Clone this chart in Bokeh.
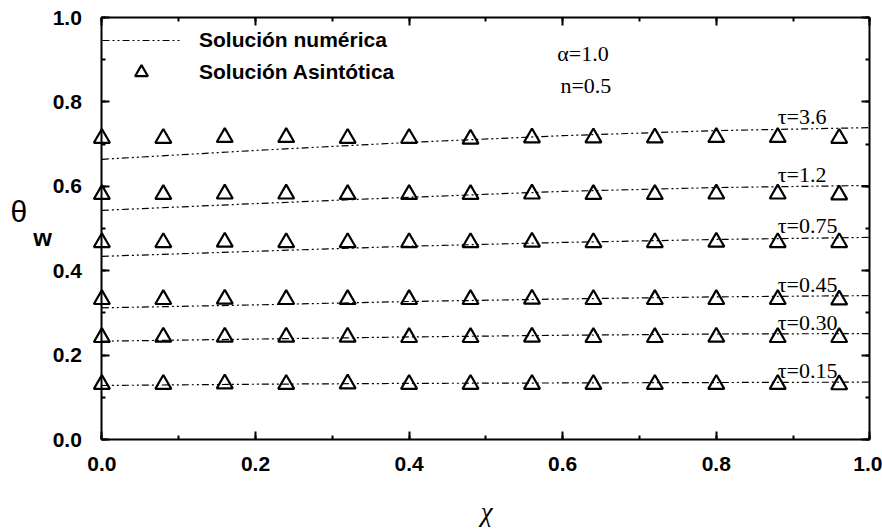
from bokeh.plotting import figure
from bokeh.models import (ColumnDataSource, Legend, LegendItem, LinearAxis, Label,
                          Range1d, SingleIntervalTicker, NumeralTickFormatter)
from bokeh.embed import file_html
from bokeh.resources import INLINE
from bokeh.core.properties import value

# Position along the wall
chi_num = [0.0, 0.2, 0.4, 0.6, 0.8, 1.0]
chi_asym = [0.0, 0.08, 0.16, 0.24, 0.32, 0.40, 0.48, 0.56, 0.64, 0.72, 0.80, 0.88, 0.96]

tau_labels = ["τ=3.6", "τ=1.2", "τ=0.75", "τ=0.45", "τ=0.30", "τ=0.15"]

# Numerical solution, wall temperature
num_36 = [0.664, 0.685, 0.704, 0.720, 0.732, 0.739]
num_12 = [0.543, 0.559, 0.574, 0.588, 0.597, 0.602]
num_075 = [0.434, 0.446, 0.458, 0.467, 0.474, 0.479]
num_045 = [0.312, 0.319, 0.327, 0.333, 0.338, 0.341]
num_030 = [0.233, 0.238, 0.243, 0.247, 0.250, 0.251]
num_015 = [0.128, 0.131, 0.133, 0.134, 0.135, 0.136]

# Asymptotic solution, wall temperature
asym_36 = [0.714, 0.714, 0.716, 0.716, 0.714, 0.714, 0.712, 0.715, 0.715, 0.715, 0.716, 0.716, 0.714]
asym_12 = [0.581, 0.581, 0.582, 0.582, 0.581, 0.581, 0.581, 0.582, 0.581, 0.581, 0.582, 0.582, 0.580]
asym_075 = [0.467, 0.467, 0.468, 0.467, 0.467, 0.467, 0.467, 0.468, 0.467, 0.467, 0.468, 0.467, 0.467]
asym_045 = [0.332, 0.332, 0.333, 0.332, 0.332, 0.332, 0.332, 0.333, 0.332, 0.332, 0.332, 0.332, 0.331]
asym_030 = [0.242, 0.243, 0.243, 0.243, 0.243, 0.242, 0.242, 0.243, 0.242, 0.242, 0.243, 0.242, 0.242]
asym_015 = [0.131, 0.131, 0.132, 0.131, 0.132, 0.131, 0.131, 0.131, 0.131, 0.131, 0.131, 0.131, 0.130]

numeric = [num_36, num_12, num_075, num_045, num_030, num_015]
asymptotic = [asym_36, asym_12, asym_075, asym_045, asym_030, asym_015]

SANS = "Liberation Sans"
SERIF = "Liberation Serif"

# The frame covers the whole canvas; the box axes sit at fixed data positions
# so that markers on the edges and the axis titles are not clipped.
p = figure(width=882, height=531, output_backend="svg", toolbar_location=None,
           x_range=Range1d(-0.1320, 1.0164), y_range=Range1d(-0.2180, 1.0403),
           x_axis_location=None, y_axis_location=None, min_border=0)
p.grid.visible = False
p.outline_line_color = None
p.background_fill_color = "white"
p.border_fill_color = "white"

bottom = LinearAxis(fixed_location=0, bounds=(0, 1))
top = LinearAxis(fixed_location=1, bounds=(0, 1))
left = LinearAxis(fixed_location=0, bounds=(0, 1))
right = LinearAxis(fixed_location=1, bounds=(0, 1))
p.add_layout(bottom, "below")
p.add_layout(top, "above")
p.add_layout(left, "left")
p.add_layout(right, "right")

for ax in (bottom, top, left, right):
    ax.ticker = SingleIntervalTicker(interval=0.2, num_minor_ticks=2)
    ax.formatter = NumeralTickFormatter(format="0.0")
    ax.axis_line_width = 2
    ax.axis_line_color = "black"
    ax.major_tick_in = 8
    ax.major_tick_out = 0
    ax.minor_tick_in = 4
    ax.minor_tick_out = 0
    ax.major_tick_line_width = 2
    ax.minor_tick_line_width = 2
    ax.major_label_text_font = SANS
    ax.major_label_text_font_style = "bold"
    ax.major_label_text_font_size = "21px"
    ax.major_label_text_color = "black"

top.major_label_text_color = None
right.major_label_text_color = None
bottom.major_label_standoff = 17
left.major_label_standoff = 20

line_renderers = []
tri_renderers = []
for vals in numeric:
    r = p.line(chi_num, vals, line_color="black", line_width=1.2, line_dash="7 3 2 3 2 3")
    line_renderers.append(r)
for vals in asymptotic:
    r = p.scatter(chi_asym, vals, marker="triangle", size=16, fill_color=None,
                  line_color="black", line_width=2.2)
    tri_renderers.append(r)

# curve labels just above the right end of each numerical curve
lab_src = ColumnDataSource(dict(
    x=[0.88] * len(tau_labels),
    y=[vals[-1] + 0.027 for vals in numeric],
    text=tau_labels,
))
p.text(x="x", y="y", text="text", source=lab_src, text_font=value(SERIF),
       text_font_size="22px", text_baseline="middle", text_align="left", text_color="black")

p.add_layout(Label(x=0.593, y=0.915, text="α=1.0", text_font=SERIF, text_font_size="22px",
                   text_baseline="middle", text_color="black"))
p.add_layout(Label(x=0.597, y=0.839, text="n=0.5", text_font=SERIF, text_font_size="22px",
                   text_baseline="middle", text_color="black"))

# axis titles
p.add_layout(Label(x=-0.108, y=0.54, text="θ", text_font=SANS, text_font_size="30px",
                   text_align="center", text_baseline="middle", text_color="black"))
p.add_layout(Label(x=-0.0773, y=0.479, text="w", text_font=SANS, text_font_style="bold",
                   text_font_size="24px", text_align="center", text_baseline="middle",
                   text_color="black"))
p.add_layout(Label(x=0.501, y=-0.172, text="χ", text_font=SERIF, text_font_style="italic",
                   text_font_size="27px", text_align="center", text_baseline="middle",
                   text_color="black"))

legend = Legend(items=[LegendItem(label="Solución numérica", renderers=[line_renderers[0]]),
                       LegendItem(label="Solución Asintótica", renderers=[tri_renderers[0]])],
                location=(102, 443), orientation="vertical",
                glyph_width=78, glyph_height=32, label_height=32, spacing=0,
                label_standoff=19, padding=3, margin=0,
                border_line_color=None, background_fill_alpha=0,
                label_text_font=SANS, label_text_font_style="bold",
                label_text_font_size="21px", label_text_color="black")
p.add_layout(legend)

open("out.html", "w").write(file_html(p, INLINE))
